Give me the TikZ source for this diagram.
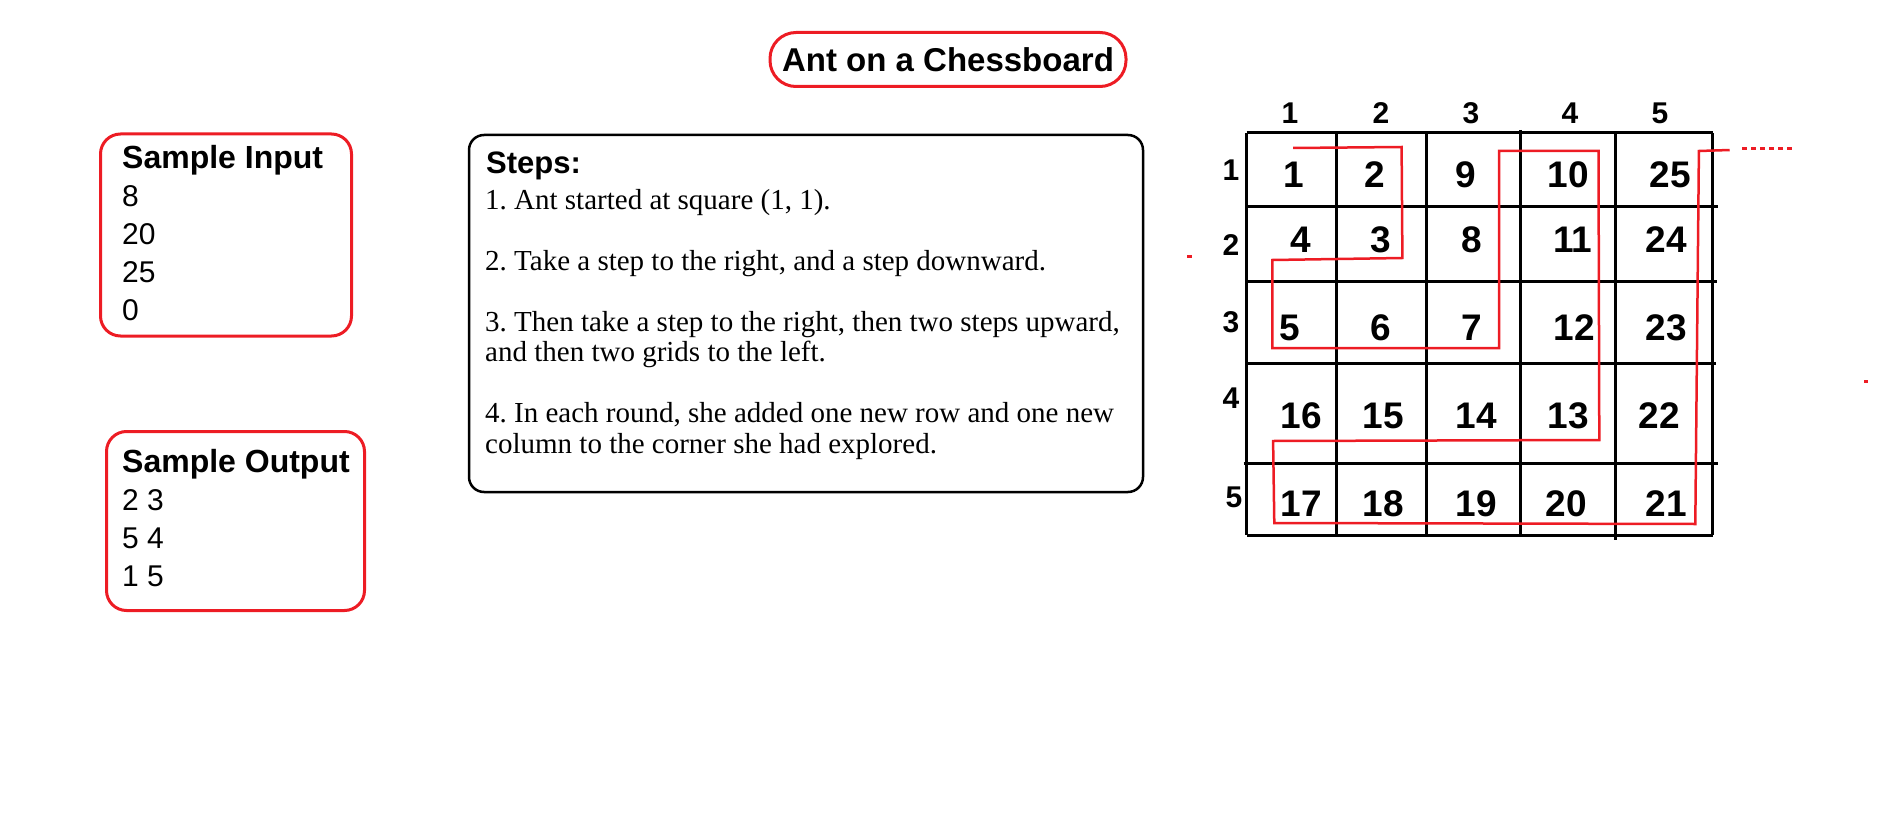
\documentclass[tikz,border=0pt]{standalone}
\usepackage{fontspec}
\setmainfont{Liberation Sans}
\newfontfamily\stepfont{Liberation Serif}
\usetikzlibrary{positioning}
\definecolor{ink}{RGB}{0,0,0}
\definecolor{pen}{RGB}{237,28,36}
\frenchspacing
\tikzset{
  every picture/.style={x=1pt, y=-1pt, color=ink},
  frame/.style={draw=pen, line width=3pt, rounded corners=20pt, inner sep=0pt},
  panel/.style={draw=ink, line width=2.5pt, rounded corners=15pt, inner sep=0pt},
  title/.style={frame, rounded corners=26pt, minimum width=356pt, minimum height=54pt,
    font=\bfseries\fontsize{33}{38}\selectfont},
  sample/.style={anchor=base west, align=left, inner sep=0pt, font=\fontsize{30}{38}\selectfont},
  stepline/.style={anchor=base west, align=left, inner sep=0pt, font=\stepfont\fontsize{29}{30.5}\selectfont},
  cell/.style={inner sep=0pt, font=\bfseries\fontsize{37}{40}\selectfont},
  lbl/.style={inner sep=0pt, font=\bfseries\fontsize{30}{34}\selectfont},
  grid/.style={draw=ink, line width=3pt},
  walk/.style={draw=pen, line width=2.5pt},
}

\begin{document}
\begin{tikzpicture}
  \useasboundingbox (0,0) rectangle (1904,832);
  % title
  \node[title] (head) at (948,59.5) {Ant on a Chessboard};
  % samples
  \node[frame, minimum width=251pt, minimum height=202pt] (inbox) at (226,235) {};
  \node[sample] (intext) at (122,320) {{\bfseries\fontsize{32}{38}\selectfont Sample Input}\\8\\20\\25\\0};
  \node[frame, minimum width=258pt, minimum height=179pt] (outbox) at (235.5,521) {};
  \node[sample] (outtext) at (122,586) {{\bfseries\fontsize{32}{38}\selectfont Sample Output}\\2 3\\5 4\\1 5};
  % steps
  \node[panel, minimum width=674pt, minimum height=357pt] (stepbox) at (806,313.5) {};
  \node[anchor=base west, inner sep=0pt, font=\bfseries\fontsize{31}{34}\selectfont] (stephead) at (486,173) {Steps:};
  \node[stepline] (steptext) at (485,453) {1. Ant started at square (1, 1).\\[30.5pt]
    2. Take a step to the right, and a step downward.\\[30.5pt]
    3. Then take a step to the right, then two steps upward,\\
    and then two grids to the left.\\[30.5pt]
    4. In each round, she added one new row and one new\\
    column to the corner she had explored.};
  % board
  \foreach \x/\a/\b in {1246.6/133/535, 1336.4/133/535, 1426.5/133/535, 1520.2/130/535, 1615.1/133/540, 1712.7/133/535}
    \draw[grid] (\x,\a) -- (\x,\b);
  \foreach \y/\a/\b in {133/1246.6/1712.7, 206/1245/1718, 281/1246.6/1717, 363/1246.6/1716, 463/1243.5/1718, 535/1246.6/1712.7}
    \draw[grid] (\a,\y) -- (\b,\y);
  \foreach \x [count=\i] in {1290,1381,1471,1570,1660}
    \node[lbl] (col\i) at (\x,113) {\i};
  \foreach \y/\x [count=\i] in {170/1231,245/1231,322/1231,398/1231,497/1234}
    \node[lbl] (row\i) at (\x,\y) {\i};
  \foreach \x/\y/\n in {1294/175/1, 1375/175/2, 1466/175/9, 1568/175/10, 1670/175/25,
      1301/240/4, 1381/240/3, 1472/240/8, 1573/240/11, 1666/240/24,
      1290/328/5, 1381/328/6, 1472/328/7, 1574/328/12, 1666/328/23,
      1301/416/16, 1383/416/15, 1476/416/14, 1568/416/13, 1659/416/22,
      1301/504/17, 1383/504/18, 1476/504/19, 1566/504/20, 1666/504/21}
    \node[cell] (c\n) at (\x,\y) {\n};
  % the ant's walk
  \draw[walk] (1293,148) -- (1401.6,147) -- (1402.4,258) -- (1272.3,260) -- (1272.3,348)
    -- (1499.2,348) -- (1499.2,151) -- (1598.5,151) -- (1599.3,440) -- (1273.1,441)
    -- (1274.3,523) -- (1695.3,524) -- (1698.9,151) -- (1729.7,150);
  \draw[walk, line width=3pt, dash pattern=on 5pt off 4pt] (1742,149) -- (1795,149);
  \fill[pen] (1187,255) rectangle (1192,258);
  \fill[pen] (1864,380) rectangle (1868,383);
\end{tikzpicture}
\end{document}
